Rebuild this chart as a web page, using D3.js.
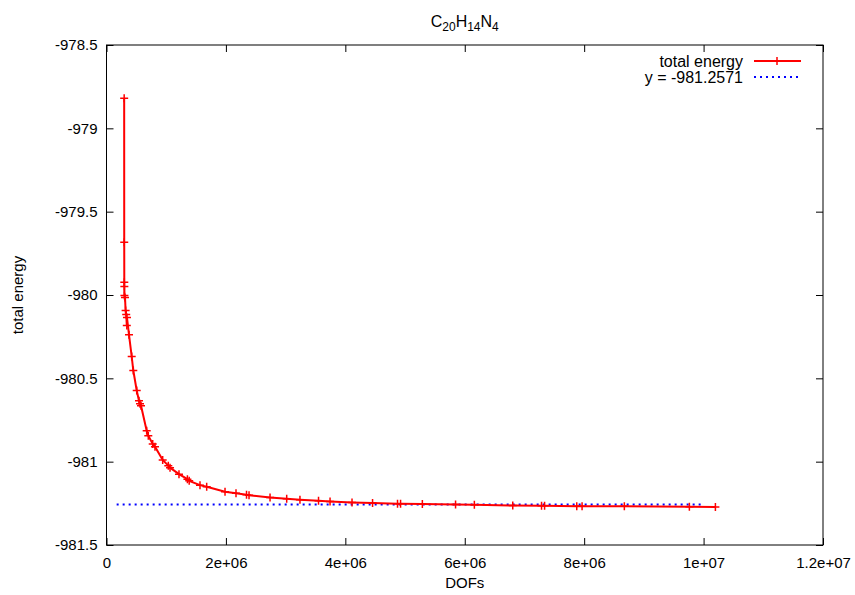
<!DOCTYPE html>
<html>
<head>
<meta charset="utf-8">
<script src="https://cdn.jsdelivr.net/npm/d3@7"></script>
<style>
  body { margin: 0; background: #fff; }
  text { font-family: "Liberation Sans", Arial, sans-serif; }
</style>
</head>
<body>
<div id="chart"></div>
<script>
// DOFs and total energy
const dofs = [
  0.296e6, 0.297e6, 0.298e6, 0.299e6, 0.300e6, 0.310e6, 0.320e6, 0.330e6, 0.343e6, 0.340e6,
  0.377e6, 0.422e6, 0.449e6, 0.506e6, 0.544e6, 0.561e6, 0.578e6, 0.673e6, 0.700e6, 0.774e6,
  0.812e6, 0.941e6, 1.035e6, 1.064e6, 1.214e6, 1.355e6, 1.385e6, 1.566e6, 1.678e6, 1.985e6,
  2.169e6, 2.345e6, 2.387e6, 2.739e6, 3.018e6, 3.240e6, 3.551e6, 3.744e6, 4.112e6, 4.456e6,
  4.874e6, 4.925e6, 5.290e6, 5.846e6, 6.161e6, 6.804e6, 7.286e6, 7.337e6, 7.876e6, 7.965e6,
  8.673e6, 9.762e6, 10.198e6
];
const energy = [
  -978.819, -979.684, -979.923, -979.949, -980.003, -980.015, -980.093, -980.117, -980.135, -980.183,
  -980.239, -980.369, -980.453, -980.573, -980.634, -980.652, -980.664, -980.814, -980.844, -980.894,
  -980.910, -980.990, -981.024, -981.036, -981.075, -981.105, -981.115, -981.141, -981.151, -981.181,
  -981.190, -981.199, -981.201, -981.215, -981.222, -981.228, -981.235, -981.239, -981.245, -981.248,
  -981.252, -981.252, -981.254, -981.257, -981.259, -981.263, -981.265, -981.265, -981.267, -981.267,
  -981.268, -981.270, -981.272
];
const fitValue = -981.2571;
const fitRange = [0.17e6, 9.97e6];

const xTicks = [0, 2e6, 4e6, 6e6, 8e6, 1e7, 1.2e7];
const xTickLabels = ["0", "2e+06", "4e+06", "6e+06", "8e+06", "1e+07", "1.2e+07"];
const yTicks = [-981.5, -981, -980.5, -980, -979.5, -979, -978.5];
const yTickLabels = ["-981.5", "-981", "-980.5", "-980", "-979.5", "-979", "-978.5"];
const legendLabels = ["total energy", "y = -981.2571"];

const width = 855, height = 595;
const margin = {top: 45, right: 32, bottom: 50, left: 106.5};

const svg = d3.select("#chart").append("svg")
  .attr("width", width).attr("height", height)
  .style("background", "#fff");

const x = d3.scaleLinear().domain([0, 1.2e7]).range([margin.left, width - margin.right]);
const y = d3.scaleLinear().domain([-981.5, -978.5]).range([height - margin.bottom, margin.top]);

const data = dofs.map((d, i) => ({x: d, y: energy[i]})).sort((a, b) => a.x - b.x);

// axes, ticks drawn inward, gnuplot style
const fmtX = d => xTickLabels[xTicks.indexOf(d)];
const fmtY = d => yTickLabels[yTicks.indexOf(d)];

svg.append("g").attr("transform", `translate(0,${y.range()[0]})`)
  .call(d3.axisBottom(x).tickValues(xTicks).tickFormat(fmtX).tickSize(-7).tickPadding(12))
  .call(g => g.select(".domain").remove());
svg.append("g").attr("transform", `translate(0,${y.range()[1]})`)
  .call(d3.axisTop(x).tickValues(xTicks).tickFormat("").tickSize(-7))
  .call(g => g.select(".domain").remove());
svg.append("g").attr("transform", `translate(${x.range()[0]},0)`)
  .call(d3.axisLeft(y).tickValues(yTicks).tickFormat(fmtY).tickSize(-7).tickPadding(9))
  .call(g => g.select(".domain").remove());
svg.append("g").attr("transform", `translate(${x.range()[1]},0)`)
  .call(d3.axisRight(y).tickValues(yTicks).tickFormat("").tickSize(-7))
  .call(g => g.select(".domain").remove());

svg.selectAll(".tick text").attr("font-size", 15).attr("fill", "#000")
  .style("font-family", "'Liberation Sans', Arial, sans-serif");
svg.selectAll(".tick line").attr("stroke", "#000");

svg.append("rect")
  .attr("x", x.range()[0]).attr("y", y.range()[1])
  .attr("width", x.range()[1] - x.range()[0]).attr("height", y.range()[0] - y.range()[1])
  .attr("fill", "none").attr("stroke", "#000").attr("stroke-width", 1);

// fitted constant
svg.append("line")
  .attr("x1", x(fitRange[0])).attr("x2", x(fitRange[1]))
  .attr("y1", y(fitValue)).attr("y2", y(fitValue))
  .attr("stroke", "#0000ff").attr("stroke-width", 2).attr("stroke-dasharray", "2,4");

// total energy curve
const line = d3.line().x(d => x(d.x)).y(d => y(d.y));
svg.append("path").datum(data)
  .attr("fill", "none").attr("stroke", "#ff0000").attr("stroke-width", 2).attr("d", line);

svg.selectAll(".pt").data(data).enter().append("path")
  .attr("class", "pt")
  .attr("d", "M-4,0H4M0,-4V4")
  .attr("transform", d => `translate(${x(d.x)},${y(d.y)})`)
  .attr("stroke", "#ff0000").attr("stroke-width", 1.5).attr("fill", "none");

// title with subscripts
const title = svg.append("text")
  .attr("x", (x.range()[0] + x.range()[1]) / 2).attr("y", 27)
  .attr("text-anchor", "middle").attr("font-size", 16).attr("fill", "#000");
[["C", false], ["20", true], ["H", false], ["14", true], ["N", false], ["4", true]].forEach(([t, sub]) => {
  title.append("tspan").text(t)
    .attr("font-size", sub ? 12 : 16)
    .attr("dy", sub ? 4 : (t === "C" ? 0 : -4));
});

// axis labels
svg.append("text").attr("x", (x.range()[0] + x.range()[1]) / 2).attr("y", 588)
  .attr("text-anchor", "middle").attr("font-size", 15).text("DOFs");
svg.append("text").attr("transform", "translate(23,295) rotate(-90)")
  .attr("text-anchor", "middle").attr("font-size", 15).text("total energy");

// legend
const legend = svg.append("g");
const legendY = [61, 77];
legendLabels.forEach((label, i) => {
  legend.append("text").attr("x", 743).attr("y", legendY[i] + 5.5)
    .attr("text-anchor", "end").attr("font-size", 16).text(label);
});
legend.append("line").attr("x1", 754).attr("x2", 801).attr("y1", legendY[0]).attr("y2", legendY[0])
  .attr("stroke", "#ff0000").attr("stroke-width", 2);
legend.append("path").attr("d", "M-4,0H4M0,-4V4")
  .attr("transform", `translate(777,${legendY[0]})`)
  .attr("stroke", "#ff0000").attr("stroke-width", 1.5);
legend.append("line").attr("x1", 754).attr("x2", 800).attr("y1", legendY[1]).attr("y2", legendY[1])
  .attr("stroke", "#0000ff").attr("stroke-width", 2).attr("stroke-dasharray", "2,4");
</script>
</body>
</html>
